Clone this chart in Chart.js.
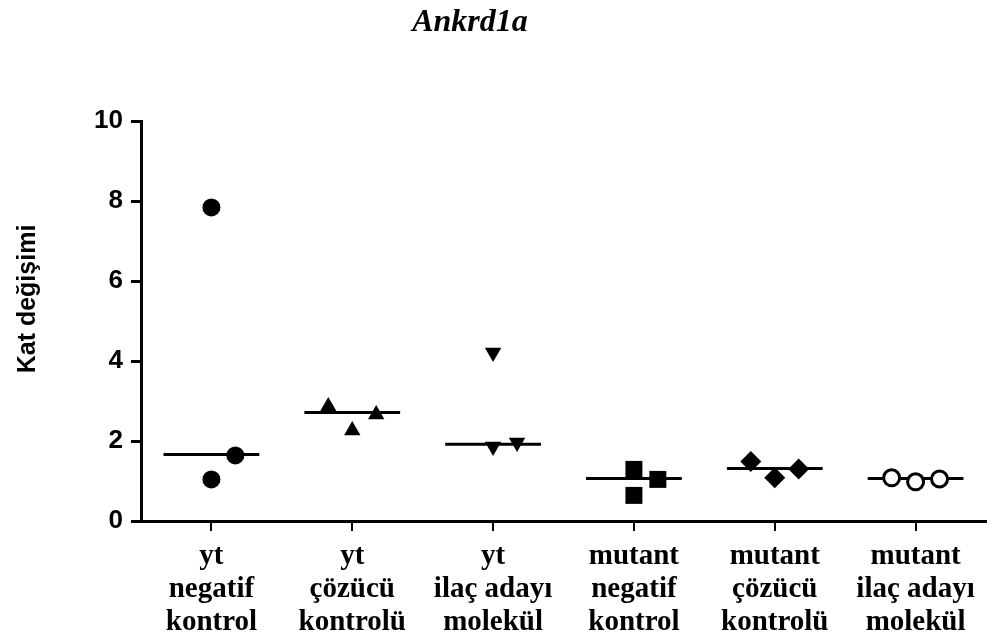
<!DOCTYPE html>
<html>
<head>
<meta charset="utf-8">
<script src="https://cdn.jsdelivr.net/npm/chart.js@4/dist/chart.umd.min.js"></script>
<style>
  html, body { margin: 0; padding: 0; background: #fff; }
  #wrap { width: 998px; height: 642px; position: relative; }
</style>
</head>
<body>
<div id="wrap"><canvas id="chart"></canvas></div>
<script>
// --- data ---
const groupLabels = [
    ['yt', 'negatif', 'kontrol'],
    ['yt', 'çözücü', 'kontrolü'],
    ['yt', 'ilaç adayı', 'molekül'],
    ['mutant', 'negatif', 'kontrol'],
    ['mutant', 'çözücü', 'kontrolü'],
    ['mutant', 'ilaç adayı', 'molekül']
];
const ytNegatifKontrol = [7.84, 1.04, 1.64];
const ytCozucuKontrolu = [2.86, 2.26, 2.66];
const ytIlacAdayi = [4.21, 1.86, 1.96];
const mutantNegatifKontrol = [1.29, 0.64, 1.04];
const mutantCozucuKontrolu = [1.49, 1.08, 1.30];
const mutantIlacAdayi = [1.08, 0.98, 1.05];
const medians = [1.66, 2.71, 1.92, 1.06, 1.31, 1.06];
const yTicks = [0, 2, 4, 6, 8, 10];

const groups = [ytNegatifKontrol, ytCozucuKontrolu, ytIlacAdayi,
                mutantNegatifKontrol, mutantCozucuKontrolu, mutantIlacAdayi];

// --- styling ---
const spread = [[0, 0, 0.17], [-0.17, 0, 0.17], [0, 0, 0.17],
                [0, 0, 0.17], [-0.17, 0, 0.17], [-0.17, 0, 0.17]];
const markers = [
    { pointStyle: 'circle', radius: 9, rotation: 0, fill: '#000' },
    { pointStyle: 'triangle', radius: 9.5, rotation: 0, fill: '#000' },
    { pointStyle: 'triangle', radius: 9.5, rotation: 180, fill: '#000' },
    { pointStyle: 'rect', radius: 12, rotation: 0, fill: '#000' },
    { pointStyle: 'rectRot', radius: 10.5, rotation: 0, fill: '#000' },
    { pointStyle: 'circle', radius: 8, rotation: 0, fill: '#fff' }
];
const halfLine = 0.34;

const pointSets = groups.map((vals, g) => ({
    data: vals.map((v, k) => ({ x: g + spread[g][k], y: v })),
    pointStyle: markers[g].pointStyle,
    pointRadius: markers[g].radius,
    rotation: markers[g].rotation,
    backgroundColor: markers[g].fill,
    borderColor: '#000',
    borderWidth: markers[g].fill === '#fff' ? 3 : 0
}));

const medianSets = medians.map((m, g) => ({
    data: [{ x: g - halfLine, y: m }, { x: g + halfLine, y: m }],
    showLine: true,
    borderColor: '#000',
    borderWidth: 3,
    pointRadius: 0
}));

// titles drawn at the spots they sit in the figure
const titlesPlugin = {
    id: 'titles',
    afterDraw(chart) {
        const ctx = chart.ctx;
        ctx.save();
        ctx.fillStyle = '#000';
        ctx.textAlign = 'center';
        ctx.textBaseline = 'alphabetic';
        ctx.font = 'italic bold 32px "Liberation Serif", "Times New Roman", serif';
        ctx.fillText('Ankrd1a', 470, 31);
        ctx.translate(35, 299);
        ctx.rotate(-Math.PI / 2);
        ctx.font = 'bold 25px "Liberation Sans", Arial, sans-serif';
        ctx.fillText('Kat değişimi', 0, 0);
        ctx.restore();
    }
};

new Chart(document.getElementById('chart'), {
    type: 'scatter',
    data: { datasets: [...pointSets, ...medianSets] },
    plugins: [titlesPlugin],
    options: {
        responsive: true,
        maintainAspectRatio: false,
        animation: false,
        events: [],
        layout: { padding: { top: 121, right: 10, left: 0, bottom: 0 } },
        plugins: { legend: { display: false }, tooltip: { enabled: false } },
        scales: {
            x: {
                type: 'linear',
                min: -0.5,
                max: 5.5,
                afterBuildTicks: axis => { axis.ticks = groupLabels.map((l, i) => ({ value: i })); },
                afterFit: axis => { axis.height = 121; },
                border: { display: true, color: '#000', width: 3 },
                grid: { display: true, drawOnChartArea: false, drawTicks: true, tickLength: 10, color: '#000', lineWidth: 2 },
                ticks: {
                    autoSkip: false,
                    maxRotation: 0,
                    padding: 9,
                    color: '#000',
                    font: { family: '"Liberation Serif", "Times New Roman", serif', size: 29, weight: 'bold', lineHeight: 1.14 },
                    callback: v => groupLabels[v]
                }
            },
            y: {
                min: 0,
                max: 10,
                afterBuildTicks: axis => { axis.ticks = yTicks.map(v => ({ value: v })); },
                afterFit: axis => { axis.width = 141; },
                border: { display: true, color: '#000', width: 3 },
                grid: { display: true, drawOnChartArea: false, drawTicks: true, tickLength: 10, color: '#000', lineWidth: 3 },
                ticks: {
                    padding: 8,
                    color: '#000',
                    font: { family: '"Liberation Sans", Arial, sans-serif', size: 26, weight: 'bold' }
                }
            }
        }
    }
});
</script>
</body>
</html>
